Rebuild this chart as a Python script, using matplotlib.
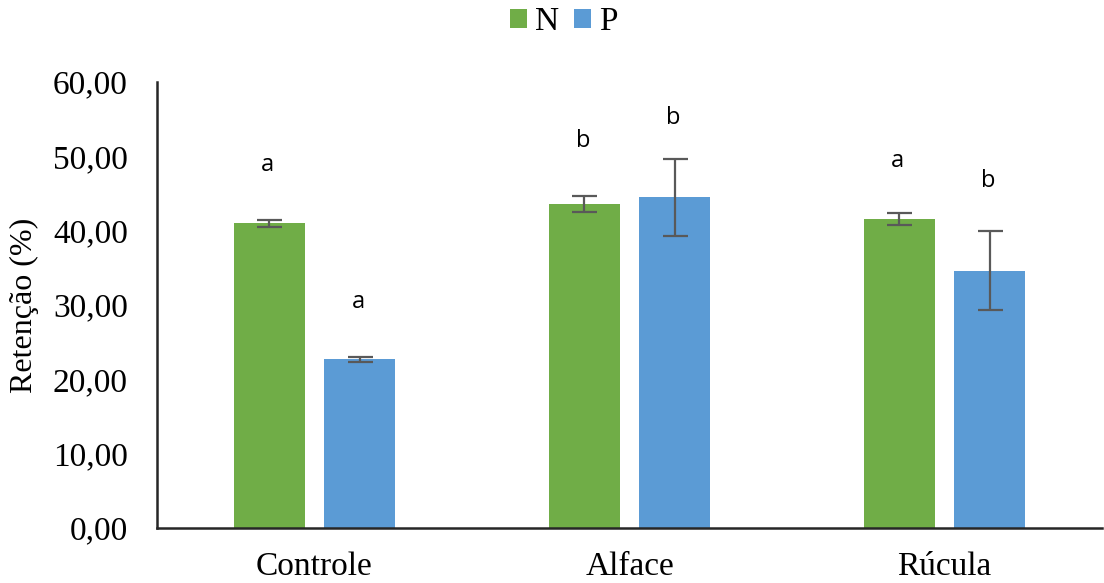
import matplotlib.pyplot as plt
import numpy as np

categories = ['Controle', 'Alface', 'Rúcula']
n_vals = [41.0, 43.6, 41.6]
n_err = [0.5, 1.1, 0.8]
p_vals = [22.7, 44.5, 34.6]
p_err = [0.3, 5.2, 5.3]
n_letters = ['a', 'b', 'a']
p_letters = ['a', 'b', 'b']
yticks = [0, 10, 20, 30, 40, 50, 60]

green = '#70AD47'
blue = '#5B9BD5'
serif = 'Liberation Serif'

fig = plt.figure(figsize=(11.04, 5.83), dpi=100)
ax = fig.add_axes([0.1422, 0.0943, 0.856, 0.765])

x = np.arange(len(categories))
w = 0.228
off = 0.143
ax.bar(x - off, n_vals, w, color=green, label='N')
ax.bar(x + off, p_vals, w, color=blue, label='P')
ax.errorbar(x - off, n_vals, yerr=n_err, fmt='none', ecolor='#595959',
            elinewidth=1.6, capsize=9, capthick=1.6)
ax.errorbar(x + off, p_vals, yerr=p_err, fmt='none', ecolor='#595959',
            elinewidth=1.6, capsize=9, capthick=1.6)

# letras de significancia acima das barras (distancia acima da barra de erro)
n_gap = [7.4, 7.4, 7.0]
p_gap = [7.4, 5.5, 6.8]
for i in range(len(categories)):
    ax.text(x[i] - off - 0.005, n_vals[i] + n_err[i] + n_gap[i], n_letters[i],
            ha='center', va='center', fontsize=17, family='Open Sans')
    ax.text(x[i] + off - 0.005, p_vals[i] + p_err[i] + p_gap[i], p_letters[i],
            ha='center', va='center', fontsize=17, family='Open Sans')

ax.set_xlim(-0.5, 2.5)
ax.set_ylim(0, 60)
ax.set_yticks(yticks)
ax.set_yticklabels(['%d,00' % v for v in yticks], family=serif, fontsize=24)
ax.set_xticks(x)
ax.set_xticklabels(categories, family=serif, fontsize=24)
ax.tick_params(axis='y', length=0, pad=21)
ax.tick_params(axis='x', length=0, pad=17)
ax.set_ylabel('Retenção (%)', family=serif, fontsize=23, labelpad=10)

for s in ['top', 'right']:
    ax.spines[s].set_visible(False)
for s in ['left', 'bottom']:
    ax.spines[s].set_color('#262626')
    ax.spines[s].set_linewidth(1.8)

fig.legend(loc='upper center', bbox_to_anchor=(0.511, 1.04), ncol=2, frameon=False,
           prop={'family': serif, 'size': 24}, handlelength=0.5, handleheight=0.5,
           handletextpad=0.25, columnspacing=0.45)

fig.savefig('out.png', dpi=100)
